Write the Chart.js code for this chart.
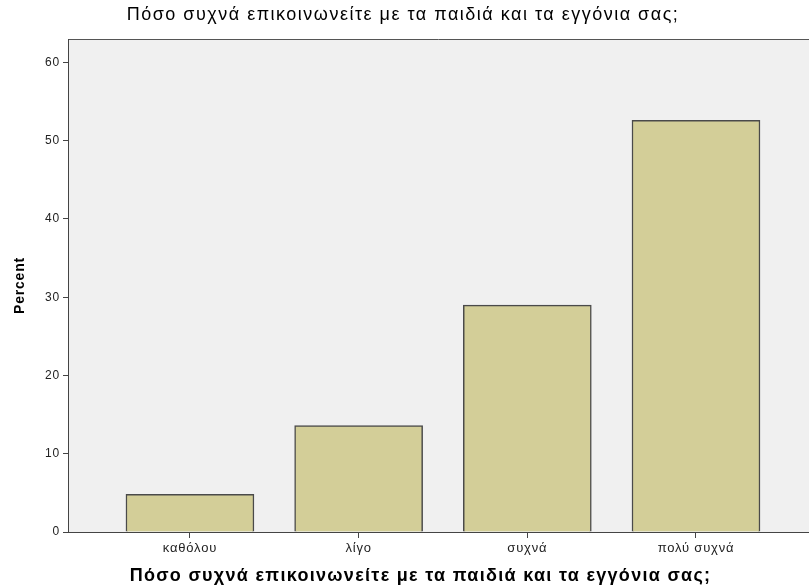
<!DOCTYPE html>
<html>
<head>
<meta charset="utf-8">
<script src="https://cdn.jsdelivr.net/npm/chart.js@4"></script>
<style>
  html, body { margin: 0; padding: 0; background: #fff; }
  #wrap { width: 809px; height: 586px; }
</style>
</head>
<body>
<div id="wrap"><canvas id="myChart" width="809" height="586"></canvas></div>
<script>
// chart values
const categories = ['καθόλου', 'λίγο', 'συχνά', 'πολύ συχνά'];
const percentValues = [4.8, 13.6, 29.0, 52.6];
const yTicks = [0, 10, 20, 30, 40, 50, 60];
const chartTitle = 'Πόσο συχνά επικοινωνείτε με τα παιδιά και τα εγγόνια σας;';
const xTitle = 'Πόσο συχνά επικοινωνείτε με τα παιδιά και τα εγγόνια σας;';
const yTitle = 'Percent';

const font = '"Liberation Sans", Arial, sans-serif';

// grey plot background + frame, plus the two long titles (drawn with letter spacing)
const plotBack = {
    id: 'plotBack',
    beforeDraw(chart) {
        const a = chart.chartArea;
        const ctx = chart.ctx;
        ctx.fillStyle = '#f0f0f0';
        ctx.fillRect(a.left, a.top, a.right - a.left, a.bottom - a.top);
        ctx.strokeStyle = '#555';
        ctx.lineWidth = 1;
        ctx.beginPath();
        ctx.moveTo(a.left, a.top + 0.5);
        ctx.lineTo(a.right, a.top + 0.5);
        ctx.stroke();
        // the tick labels in the reference are a little spaced out
        ctx.letterSpacing = '0.8px';
    },
    afterDraw(chart) {
        const a = chart.chartArea;
        const ctx = chart.ctx;
        ctx.save();
        ctx.fillStyle = '#000';
        ctx.textAlign = 'center';
        ctx.textBaseline = 'middle';
        ctx.letterSpacing = '1.5px';
        ctx.font = '18px ' + font;
        ctx.fillText(chartTitle, 403, 15);
        ctx.letterSpacing = '1.3px';
        ctx.font = 'bold 18px ' + font;
        ctx.fillText(xTitle, (a.left + a.right) / 2 - 18, 576);
        ctx.restore();
    }
};

const ctx = document.getElementById('myChart').getContext('2d');
const myChart = new Chart(ctx, {
    type: 'bar',
    data: {
        datasets: [{
            label: yTitle,
            data: percentValues.map((v, i) => ({ x: i, y: v })),
            backgroundColor: '#d3ce98',
            borderColor: '#4a4a4a',
            borderWidth: 1.5,
            barThickness: 128
        }]
    },
    options: {
        responsive: false,
        animation: false,
        layout: { padding: { left: 0, right: 0, top: 39, bottom: 0 } },
        plugins: {
            legend: { display: false },
            tooltip: { enabled: false },
            title: { display: false }
        },
        scales: {
            x: {
                type: 'linear',
                offset: false,
                min: -0.723,
                max: 3.67,
                afterBuildTicks: s => { s.ticks = categories.map((c, i) => ({ value: i })); },
                afterFit: s => { s.height = 54; },
                grid: { offset: false, drawOnChartArea: false, drawTicks: true, tickLength: 6, color: '#444' },
                border: { display: true, color: '#444', width: 1 },
                ticks: {
                    autoSkip: false,
                    maxRotation: 0,
                    padding: 3,
                    color: '#222',
                    font: { family: font, size: 13 },
                    callback: v => categories[v]
                }
            },
            y: {
                min: 0,
                max: 63,
                afterBuildTicks: s => { s.ticks = yTicks.map(v => ({ value: v })); },
                afterFit: s => { s.width = 68; },
                grid: { drawOnChartArea: false, drawTicks: true, tickLength: 5, color: '#444' },
                border: { display: true, color: '#444', width: 1 },
                ticks: {
                    padding: 3,
                    color: '#222',
                    font: { family: font, size: 12 }
                },
                title: {
                    display: true,
                    text: yTitle,
                    color: '#000',
                    font: { family: font, size: 14, weight: 'bold' },
                    padding: { top: 12, bottom: 0 }
                }
            }
        }
    },
    plugins: [plotBack]
});
</script>
</body>
</html>
